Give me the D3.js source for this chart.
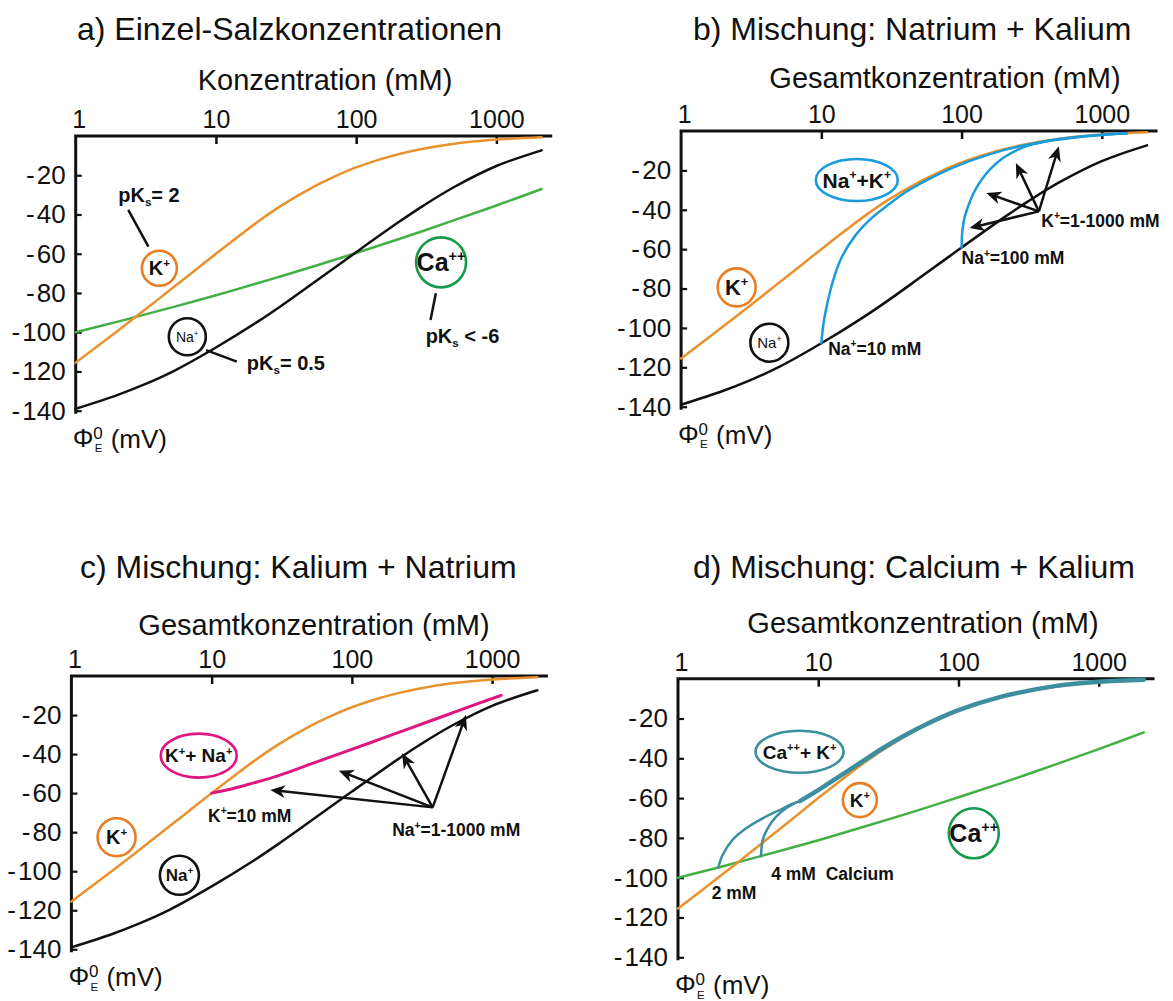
<!DOCTYPE html>
<html>
<head>
<meta charset="utf-8">
<script src="https://cdn.jsdelivr.net/npm/d3@7"></script>
<style>
body { margin: 0; background: #fff; }
svg { display: block; font-family: "Liberation Sans", Arial, sans-serif; }
</style>
</head>
<body>
<svg id="chart" width="1173" height="1001"></svg>
<script>
// Axis ticks (all four panels share them)
var xTicks = [1, 10, 100, 1000];
var yTicks = [-20, -40, -60, -80, -100, -120, -140];

// Single salts: concentration (mM) -> potential (mV)
var kConc  = [1, 2, 3, 5, 7, 10, 15, 20, 30, 50, 70, 100, 150, 200, 300, 500, 1000, 2100];
var kPhi   = [-115.5, -99.2, -89.5, -77, -68.8, -60, -50.3, -43.6, -35, -25.8, -20.7, -16, -11.8, -9.3, -6.5, -3.9, -1.8, -0.6];
var naConc = [1, 2, 3, 5, 10, 20, 30, 50, 100, 200, 300, 500, 1000, 2100];
var naPhi  = [-139, -131.9, -127, -119.8, -107.8, -94.5, -86, -74.7, -59.2, -44, -35.6, -26, -15.3, -7.3];
var caConc = [1, 2, 3, 5, 10, 20, 30, 50, 100, 200, 300, 500, 1000, 2100];
var caPhi  = [-100, -94.6, -91.3, -87.1, -81.2, -74.9, -71.2, -66.4, -59.6, -52.6, -48.4, -42.9, -35.4, -27];

// b) Na fixed at 10 / 100 mM, K added
var na10Conc  = [10, 10.3, 10.7, 11.5, 12.5, 14, 17.5, 23, 30, 40, 50, 70, 100, 150, 200, 300, 500, 1000, 1500];
var na10Phi   = [-107.8, -99, -92, -82, -73, -64, -53, -44, -37.5, -31, -27, -21.6, -16.8, -12.4, -9.7, -6.9, -4.1, -1.9, -1.2];
var na100Conc = [100, 100.7, 102, 105, 108, 120, 138, 162, 200, 264, 350, 450, 600, 1000, 1500];
var na100Phi  = [-59.2, -53, -49, -44, -41, -32.5, -25, -19, -13.5, -8.8, -6.2, -4.7, -3.5, -2, -1.3];

// c) K fixed at 10 mM, Na added
var k10Conc = [10, 13, 17.7, 30, 53, 91, 157, 271, 469, 809, 1160];
var k10Phi  = [-60, -58.3, -55.8, -51, -44.6, -38.6, -32.5, -26.3, -20.1, -13.9, -9.9];

// d) Ca fixed at 2 / 4 mM, K added; common upper branch
var ca2Conc   = [1.94, 2.08, 2.45, 3.06, 4.02, 5.29, 6.59, 7.4];
var ca2Phi    = [-94.8, -88.6, -81, -75.2, -70.2, -66, -62.8, -61.5];
var ca4Conc   = [3.91, 4.02, 4.36, 5.01, 5.91, 6.97, 7.4];
var ca4Phi    = [-89.2, -81, -75.2, -69.3, -65.1, -62.2, -61.5];
var caMixConc = [7.4, 10, 15, 20, 30, 50, 100, 200, 500, 1000, 2100];
var caMixPhi  = [-61.5, -56, -47.9, -42.2, -34.2, -25.4, -15.8, -9.1, -3.6, -1.5, -0.5];

// Arrows: start point and end points [conc, mV]
var arrowsB = { from: [356, -40.8], to: [[114, -49.3], [150, -31.5], [244, -16.3], [494, -7.8]] };
var arrowsC = { from: [377, -67.3], to: [[26.2, -58.4], [80.7, -48.5], [228, -39.6], [651, -20]] };

var FONT = '"Liberation Sans", Arial, sans-serif';
var ORANGE = "#e8922e", ORANGE_RING = "#ea7d22", BLACK = "#111",
    GREEN = "#42b044", GREEN_RING = "#179a4a", BLUE = "#1a9bdb",
    PINK = "#e0157f", TEAL = "#3d8e9e";

var svg = d3.select("#chart");
var defs = svg.append("defs");
defs.append("marker")
    .attr("id", "head")
    .attr("viewBox", "-16 -8 17 16")
    .attr("refX", 0).attr("refY", 0)
    .attr("markerWidth", 17).attr("markerHeight", 16)
    .attr("markerUnits", "userSpaceOnUse")
    .attr("orient", "auto")
    .append("path")
    .attr("d", "M0,0 L-15,-6.5 L-10.5,0 L-15,6.5 Z")
    .attr("fill", BLACK);

// Text with ^{sup} and _{sub} parts
function rich(sel, str, size, weight) {
    var t = sel.append("text")
        .attr("font-size", size)
        .attr("font-weight", weight || "normal")
        .attr("fill", BLACK)
        .style("white-space", "pre");
    var shift = 0;
    str.split(/(\^\{[^}]*\}|_\{[^}]*\})/).filter(function (s) { return s; }).forEach(function (s) {
        var fs = size, target = 0, txt = s;
        if (s[0] === "^") { fs = size * 0.58; target = -size * 0.42; txt = s.slice(2, -1); }
        else if (s[0] === "_") { fs = size * 0.58; target = size * 0.2; txt = s.slice(2, -1); }
        t.append("tspan").attr("font-size", fs).attr("dy", target - shift).text(txt);
        shift = target;
    });
    return t;
}

function Panel(cfg) {
    this.cfg = cfg;
    this.w = 476.5;
    this.h = cfg.height;
    this.x = d3.scaleLog().domain([1, 2500]).range([0, this.w]);
    this.y = d3.scaleLinear().domain([0, -140]).range([0, this.h]);
    this.g = svg.append("g").attr("transform", "translate(" + cfg.left + "," + cfg.top + ")");

    svg.append("text")
        .attr("x", cfg.titleX).attr("y", cfg.titleY)
        .attr("font-size", 32).attr("fill", BLACK)
        .text(cfg.title);
    svg.append("text")
        .attr("x", cfg.labelX).attr("y", cfg.labelY)
        .attr("text-anchor", "middle")
        .attr("font-size", 29).attr("fill", BLACK)
        .text(cfg.xlabel);

    this.axes();
}

Panel.prototype.axes = function () {
    var g = this.g, w = this.w, h = this.h;

    var gx = g.append("g")
        .call(d3.axisTop(this.x).tickValues(xTicks).tickSizeInner(-8).tickSizeOuter(0)
            .tickPadding(8).tickFormat(d3.format("d")));
    gx.attr("font-family", FONT).attr("font-size", 25);
    gx.select(".domain").remove();
    gx.selectAll(".tick line").attr("stroke-width", 2.5).attr("stroke", BLACK)
        .filter(function (d) { return d === 1; }).remove();
    gx.selectAll(".tick text").attr("fill", BLACK)
        .filter(function (d) { return d === 1; }).attr("dx", 3);

    var gy = g.append("g")
        .call(d3.axisLeft(this.y).tickValues(yTicks).tickSizeInner(-6).tickSizeOuter(0)
            .tickPadding(10).tickFormat(function (d) { return "-\u200A" + Math.abs(d); }));
    gy.attr("font-family", FONT).attr("font-size", 26);
    gy.select(".domain").remove();
    gy.selectAll(".tick line").attr("stroke-width", 2.2).attr("stroke", BLACK);
    gy.selectAll(".tick text").attr("fill", BLACK);

    // the two axis lines meet in a square corner
    g.append("path")
        .attr("d", "M" + w + ",0H0V" + (h + 3))
        .attr("fill", "none").attr("stroke", BLACK).attr("stroke-width", 3);

    // Phi_E^0 (mV)
    var lab = g.append("g").attr("fill", BLACK);
    lab.append("text").attr("x", -3).attr("y", h + 36).attr("font-size", 26).text("\u03A6");
    lab.append("text").attr("x", 17.5).attr("y", h + 28).attr("font-size", 17).text("0");
    lab.append("text").attr("x", 19).attr("y", h + 41.5).attr("font-size", 11.5).text("E");
    lab.append("text").attr("x", 35).attr("y", h + 37).attr("font-size", 26).text("(mV)");
};

Panel.prototype.curve = function (conc, phi, color, width) {
    var x = this.x, y = this.y;
    var line = d3.line()
        .x(function (d) { return x(d[0]); })
        .y(function (d) { return y(d[1]); })
        .curve(d3.curveCatmullRom.alpha(0.5));
    this.g.append("path")
        .datum(d3.zip(conc, phi))
        .attr("d", line)
        .attr("fill", "none")
        .attr("stroke", color)
        .attr("stroke-width", width || 2.5)
        .attr("stroke-linecap", "round");
};

Panel.prototype.ring = function (at, rx, ry, color, label, size, weight) {
    var cx = this.x(at[0]), cy = this.y(at[1]);
    this.g.append("ellipse")
        .attr("cx", cx).attr("cy", cy).attr("rx", rx).attr("ry", ry)
        .attr("fill", "none").attr("stroke", color).attr("stroke-width", 2.6);
    rich(this.g, label, size, weight)
        .attr("x", cx).attr("y", cy + size * 0.36)
        .attr("text-anchor", "middle");
};

Panel.prototype.note = function (at, label, size) {
    rich(this.g, label, size || 18, "bold")
        .attr("x", this.x(at[0])).attr("y", this.y(at[1]));
};

Panel.prototype.leader = function (a, b) {
    this.g.append("line")
        .attr("x1", this.x(a[0])).attr("y1", this.y(a[1]))
        .attr("x2", this.x(b[0])).attr("y2", this.y(b[1]))
        .attr("stroke", BLACK).attr("stroke-width", 2.5);
};

Panel.prototype.arrows = function (set) {
    var x = this.x, y = this.y, g = this.g;
    var x0 = x(set.from[0]), y0 = y(set.from[1]);
    set.to.forEach(function (p) {
        var x1 = x(p[0]), y1 = y(p[1]);
        var len = Math.hypot(x1 - x0, y1 - y0);
        // stop the shaft inside the head so the point stays sharp
        var k = (len - 8) / len;
        g.append("line")
            .attr("x1", x0).attr("y1", y0)
            .attr("x2", x0 + (x1 - x0) * k).attr("y2", y0 + (y1 - y0) * k)
            .attr("stroke", BLACK).attr("stroke-width", 2.5);
        g.append("line")
            .attr("x1", x0 + (x1 - x0) * k).attr("y1", y0 + (y1 - y0) * k)
            .attr("x2", x1).attr("y2", y1)
            .attr("stroke", "none")
            .attr("marker-end", "url(#head)");
    });
};

// ---- a) single salts ----
var a = new Panel({ title: "a) Einzel-Salzkonzentrationen", xlabel: "Konzentration (mM)",
    left: 75.7, top: 136, height: 274.7, titleX: 77, titleY: 40, labelX: 325, labelY: 90 });
a.curve(caConc, caPhi, GREEN);
a.curve(naConc, naPhi, BLACK);
a.curve(kConc, kPhi, ORANGE);
a.ring([3.95, -67.4], 17.5, 17.5, ORANGE_RING, "K^{+}", 20, "bold");
a.ring([6.25, -102.3], 18.5, 18.5, BLACK, "Na^{+}", 14, "normal");
a.ring([403, -64.4], 25, 25, GREEN_RING, "Ca^{++}", 25, "bold");
a.leader([2.37, -37.7], [3.3, -56.4]);
a.leader([8.5, -109.1], [14.1, -115]);
a.leader([370, -80.2], [339, -93.8]);
a.note([2.01, -33.5], "pK_{s}= 2", 20);
a.note([16.6, -119.5], "pK_{s}= 0.5", 20);
a.note([313, -105.7], "pK_{s} < -6", 20);

// ---- b) Na + K ----
var b = new Panel({ title: "b) Mischung: Natrium + Kalium", xlabel: "Gesamtkonzentration (mM)",
    left: 681.1, top: 131, height: 275.7, titleX: 693, titleY: 40, labelX: 945, labelY: 88 });
b.curve(naConc, naPhi, BLACK);
b.curve(kConc, kPhi, ORANGE);
b.curve(na10Conc, na10Phi, BLUE);
b.curve(na100Conc, na100Phi, BLUE);
b.arrows(arrowsB);
b.ring([17.9, -24.9], 41, 21, BLUE, "Na^{+}+K^{+}", 21, "bold");
b.ring([2.49, -79.4], 19, 19, ORANGE_RING, "K^{+}", 22, "bold");
b.ring([4.26, -107.5], 19, 19, BLACK, "Na^{+}", 15, "normal");
b.note([11.2, -113.6], "Na^{+}=10 mM", 17.5);
b.note([100, -67.5], "Na^{+}=100 mM", 17.5);
b.note([370, -48.6], "K^{+}=1-1000 mM", 17.5);

// ---- c) K + Na ----
var c = new Panel({ title: "c) Mischung: Kalium + Natrium", xlabel: "Gesamtkonzentration (mM)",
    left: 71.4, top: 676, height: 273.3, titleX: 80, titleY: 578, labelX: 314, labelY: 635 });
c.curve(naConc, naPhi, BLACK);
c.curve(kConc, kPhi, ORANGE);
c.curve(k10Conc, k10Phi, PINK, 3);
c.arrows(arrowsC);
c.ring([8.09, -40.8], 38, 22, PINK, "K^{+}+ Na^{+}", 19, "bold");
c.ring([2.1, -82.6], 19, 19, ORANGE_RING, "K^{+}", 20, "bold");
c.ring([5.89, -102.1], 19.5, 19.5, BLACK, "Na^{+}", 17, "bold");
c.note([9.43, -74.6], "K^{+}=10 mM", 17.5);
c.note([194, -82], "Na^{+}=1-1000 mM", 17.5);

// ---- d) Ca + K ----
var d = new Panel({ title: "d) Mischung: Calcium + Kalium", xlabel: "Gesamtkonzentration (mM)",
    left: 678, top: 678.7, height: 278.6, titleX: 693, titleY: 578, labelX: 923, labelY: 633 });
d.curve(caConc, caPhi, GREEN);
d.curve(kConc, kPhi, ORANGE);
d.curve(ca2Conc, ca2Phi, TEAL, 2.5);
d.curve(ca4Conc, ca4Phi, TEAL, 2.5);
d.curve(caMixConc, caMixPhi, TEAL, 4.5);
d.ring([7.36, -36.7], 44, 21, TEAL, "Ca^{++}+ K^{+}", 19, "bold");
d.ring([19.8, -61], 17, 17, ORANGE_RING, "K^{+}", 19, "bold");
d.ring([128.6, -77.7], 25, 25, GREEN_RING, "Ca^{++}", 25, "bold");
d.note([1.74, -110.9], "2 mM", 17.5);
d.note([4.62, -101.2], "4 mM  Calcium", 17.5);
</script>
</body>
</html>
